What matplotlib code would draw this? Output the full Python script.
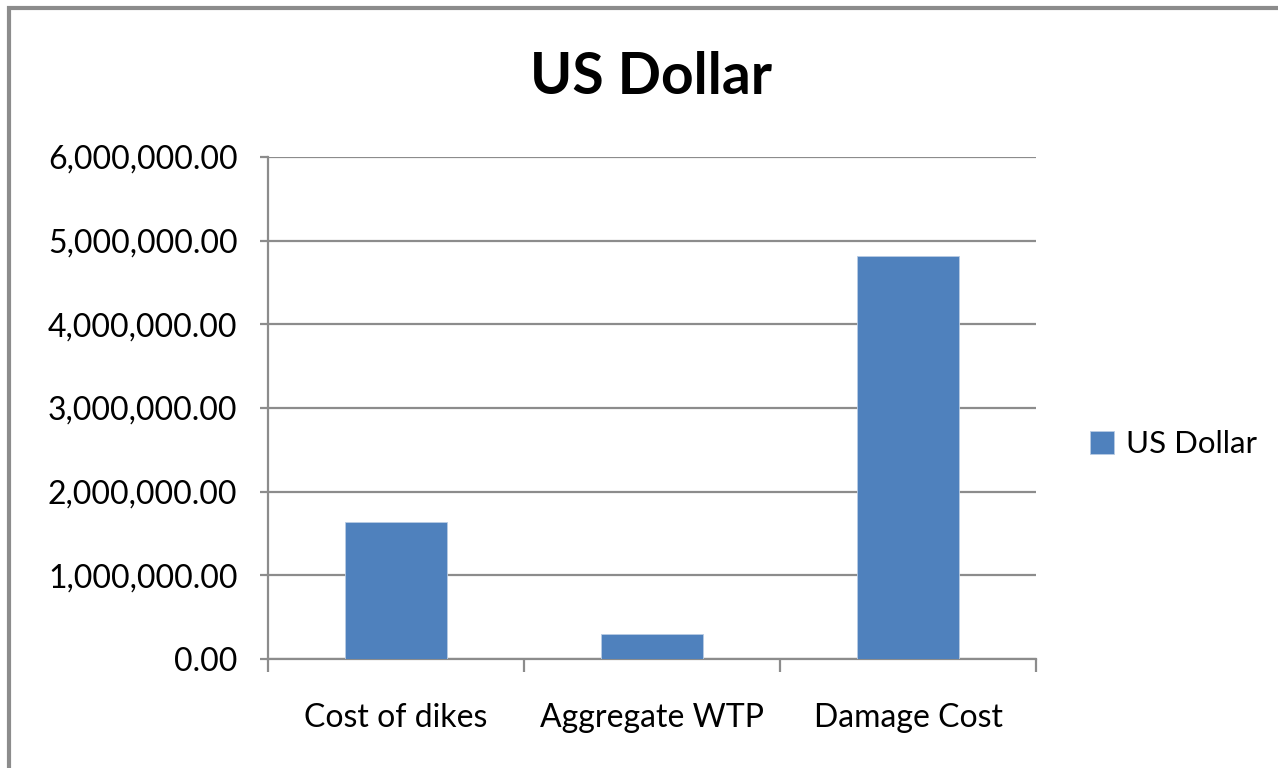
import matplotlib.pyplot as plt
from matplotlib.ticker import FuncFormatter
from matplotlib.patches import Rectangle

categories = ["Cost of dikes", "Aggregate WTP", "Damage Cost"]
usd = [1640000, 295000, 4815000]

plt.rcParams['font.family'] = ['Lato', 'DejaVu Sans']

fig = plt.figure(figsize=(12.78, 7.68), dpi=100)
ax = fig.add_axes([268/1278, 1 - 659/768, 768/1278, 502/768])

grid_c = "#8c8c8c"
x = range(len(categories))
ax.bar(x, usd, width=0.4, color="#4F81BD", edgecolor="#b8cce4", linewidth=0.6,
       label="US Dollar", zorder=3)

ax.set_xlim(-0.5, 2.5)
ax.set_ylim(0, 6000000)
ax.set_yticks(range(0, 6000001, 1000000))
ax.yaxis.set_major_formatter(FuncFormatter(lambda v, p: f"{v:,.2f}"))
ax.yaxis.grid(True, color=grid_c, linewidth=1.6, zorder=0)

# category labels between boundary ticks
ax.set_xticks([-0.5, 0.5, 1.5, 2.5])
ax.set_xticklabels([])
ax.set_xticks(list(x), minor=True)
ax.set_xticklabels(categories, minor=True, fontsize=23)
ax.tick_params(axis='x', which='minor', length=0, pad=32)
ax.tick_params(axis='x', which='major', length=9, width=1.6, color=grid_c)
ax.tick_params(axis='y', length=6, width=1.6, color=grid_c, labelsize=23, pad=16)

for s in ["top", "right"]:
    ax.spines[s].set_visible(False)
for s in ["left", "bottom"]:
    ax.spines[s].set_color(grid_c)
    ax.spines[s].set_linewidth(1.6)

fig.text(651/1278, 1 - 78/768, "US Dollar", ha="center", va="center",
         fontsize=41, fontweight="bold")

ax.legend(loc="center left", bbox_to_anchor=(1062/1278, 1 - 444/768),
          bbox_transform=fig.transFigure, frameon=False, fontsize=22.5,
          handlelength=0.75, handleheight=0.75, handletextpad=0.4)

# outer chart border (right and bottom edges fall off the picture)
fig.patches.append(Rectangle((9/1278, -0.05), 1.2, 1 - 8/768 + 0.05,
                             transform=fig.transFigure, fill=False,
                             edgecolor="#8c8c8c", linewidth=3))

fig.savefig("out.png", dpi=100)
